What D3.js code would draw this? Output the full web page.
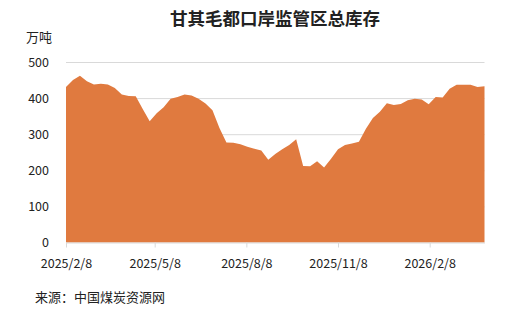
<!DOCTYPE html>
<html>
<head>
<meta charset="utf-8">
<script src="https://cdn.jsdelivr.net/npm/d3@7"></script>
<style>
  body { margin: 0; background: #fff; }
  svg text { font-family: "Noto Sans CJK SC", "Noto Sans", sans-serif; fill: #222; }
  .grid line { stroke: #d9d9d9; }
  .grid path { display: none; }
</style>
</head>
<body>
<svg width="512" height="321"></svg>
<script>
// weekly stock, unit: 10k tonnes
const startDate = '2025-02-08';
const weekCount = 61;
const stock = [
  431, 450, 462, 447, 438, 440, 438, 428, 410, 406,
  405, 370, 336, 358, 375, 398, 403, 410, 407, 398,
  385, 366, 317, 277, 276, 272, 265, 260, 255, 229,
  245, 258, 270, 286, 212, 211, 225, 208, 232, 258,
  270, 274, 279, 315, 345, 362, 386, 381, 384, 394,
  398, 396, 383, 403, 402, 426, 437, 437, 437, 431,
  433
];
const yTicks = [0, 100, 200, 300, 400, 500];
const xTickLabels = ['2025/2/8', '2025/5/8', '2025/8/8', '2025/11/8', '2026/2/8'];

const title = '甘其毛都口岸监管区总库存';
const unitLabel = '万吨';
const sourceLabel = '来源：中国煤炭资源网';

const parse = d3.timeParse('%Y-%m-%d');
const t0 = parse(startDate);
const dates = d3.range(weekCount).map(i => d3.timeDay.offset(t0, i * 7));
const data = dates.map((d, i) => ({ date: d, value: stock[i] }));
const xTicks = xTickLabels.map(s => d3.timeParse('%Y/%m/%d')(s));

const svg = d3.select('svg');

const x = d3.scaleTime()
  .domain(d3.extent(dates))
  .range([66, 484.5]);

const y = d3.scaleLinear()
  .domain([0, 500])
  .range([242.5, 62]);

// grid
svg.append('g')
  .attr('class', 'grid')
  .attr('transform', 'translate(66,0)')
  .call(d3.axisLeft(y).tickValues(yTicks.slice(1)).tickSize(-418.5).tickFormat(''));

// area
svg.append('path')
  .datum(data)
  .attr('fill', '#e07a3f')
  .attr('d', d3.area()
    .x(d => x(d.date))
    .y0(y(0))
    .y1(d => y(d.value)));

// x axis
const xAxis = svg.append('g')
  .attr('transform', `translate(0,${y(0)})`)
  .call(d3.axisBottom(x).tickValues(xTicks).tickSize(5).tickSizeOuter(0)
    .tickFormat((d, i) => xTickLabels[i]));
xAxis.select('.domain').attr('stroke', '#d9d9d9');
xAxis.selectAll('.tick line').attr('stroke', '#d9d9d9');
xAxis.selectAll('text')
  .attr('dy', null)
  .attr('y', 25.5)
  .style('font-size', '12.5px')
  .style('fill', '#222');

// y axis labels
const yAxis = svg.append('g')
  .attr('transform', 'translate(66,0)')
  .call(d3.axisLeft(y).tickValues(yTicks).tickSize(0).tickPadding(17));
yAxis.select('.domain').remove();
yAxis.selectAll('text')
  .style('font-size', '12.5px')
  .style('fill', '#222');

svg.append('text')
  .attr('x', 275)
  .attr('y', 24.5)
  .attr('text-anchor', 'middle')
  .style('font-size', '17.5px')
  .style('font-weight', 'bold')
  .text(title);

svg.append('text')
  .attr('x', 26)
  .attr('y', 42)
  .style('font-size', '13px')
  .text(unitLabel);

svg.append('text')
  .attr('x', 35)
  .attr('y', 302)
  .style('font-size', '13px')
  .text(sourceLabel);
</script>
</body>
</html>
